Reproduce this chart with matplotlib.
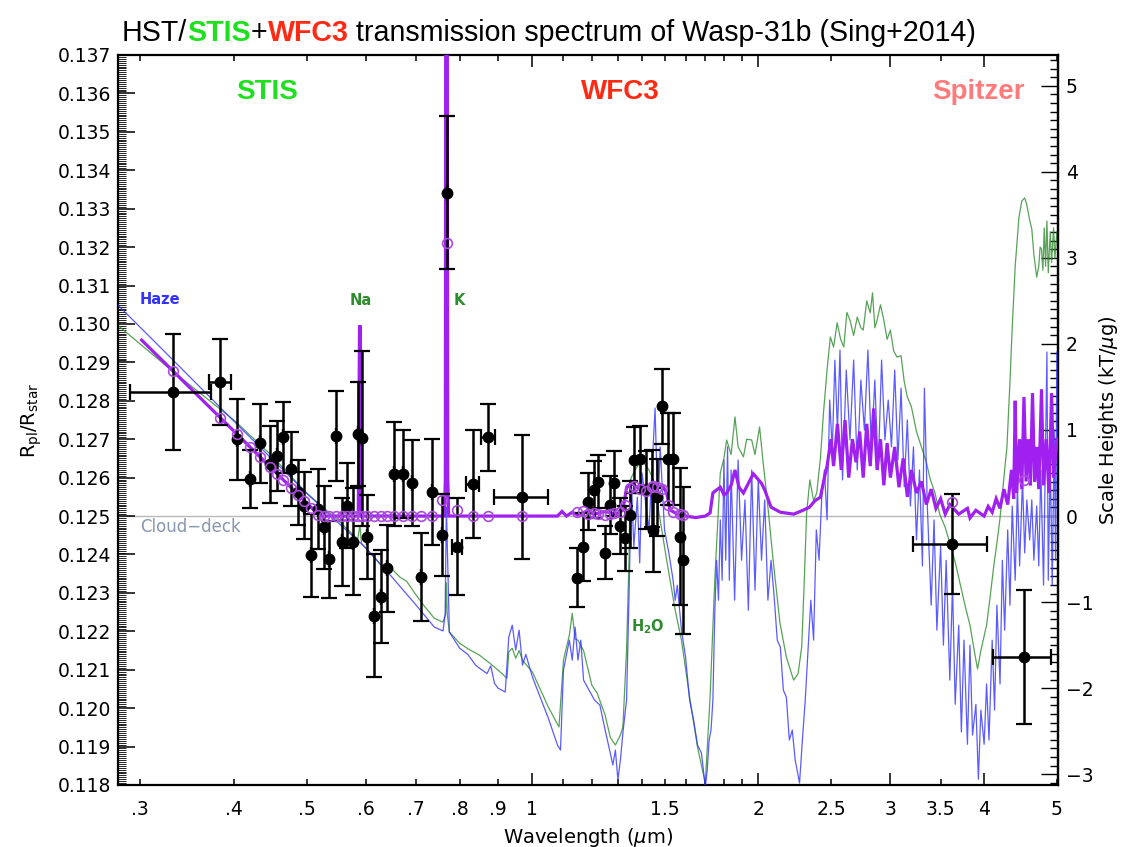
import matplotlib
matplotlib.use("Agg")
import matplotlib.pyplot as plt
from matplotlib.ticker import MultipleLocator, FixedLocator, FormatStrFormatter

# ---------------------------------------------------------------------------
# Observed spectrum: wavelength (um), Rp/Rs, 1-sigma error, bin half-width (um)
# ---------------------------------------------------------------------------
stis_wl = [0.3316, 0.3834, 0.4035, 0.4203, 0.4334, 0.4469, 0.4562, 0.4656, 0.4763,
           0.4866, 0.4966, 0.5063, 0.5174, 0.5277, 0.5362, 0.5469, 0.5569, 0.5656,
           0.5772, 0.5851, 0.5929, 0.6013, 0.6157, 0.6280, 0.6397, 0.6540, 0.6730,
           0.6918, 0.7106, 0.7343, 0.7570, 0.7695, 0.7943, 0.8327, 0.8736, 0.9680]
stis_rp = [0.12824, 0.12850, 0.12700, 0.12596, 0.12689, 0.12635, 0.12657, 0.12705, 0.12622,
           0.12562, 0.12527, 0.12398, 0.12518, 0.12471, 0.12387, 0.12708, 0.12432, 0.12527,
           0.12433, 0.12714, 0.12702, 0.12445, 0.12240, 0.12290, 0.12364, 0.12609, 0.12609,
           0.12585, 0.12342, 0.12563, 0.12451, 0.13341, 0.12420, 0.12583, 0.12705, 0.12550]
stis_err = [0.00151, 0.00112, 0.00105, 0.00076, 0.00102, 0.00100, 0.00091, 0.00093, 0.00096,
            0.00085, 0.00087, 0.00108, 0.00104, 0.00108, 0.00101, 0.00117, 0.00115, 0.00111,
            0.00139, 0.00135, 0.00228, 0.00109, 0.00160, 0.00121, 0.00113, 0.00136, 0.00115,
            0.00112, 0.00115, 0.00138, 0.00107, 0.00199, 0.00126, 0.00141, 0.00087, 0.00162]
stis_hw = [0.041, 0.013, 0, 0, 0, 0, 0, 0, 0,
           0, 0, 0, 0, 0, 0, 0, 0, 0,
           0, 0, 0, 0, 0, 0, 0, 0, 0,
           0, 0, 0, 0, 0, 0.012, 0.017, 0.019, 0.080]

wfc3_wl = [1.148, 1.1695, 1.1876, 1.2097, 1.2246, 1.2500, 1.2694, 1.2863, 1.3090, 1.3305, 1.3498,
           1.3677, 1.3918, 1.4164, 1.4428, 1.4499, 1.4651, 1.4905, 1.5182, 1.5417, 1.5737, 1.5898]
wfc3_rp = [0.12340, 0.12420, 0.12537, 0.12568, 0.12589, 0.12404, 0.12529, 0.12585, 0.12474,
           0.12442, 0.12503, 0.12646, 0.12648, 0.12568, 0.12572, 0.12464, 0.12549, 0.12786,
           0.12648, 0.12648, 0.12446, 0.12385]
wfc3_err = [0.00077, 0.00089, 0.00074, 0.00074, 0.00069, 0.00069, 0.00076, 0.00085, 0.00074,
            0.00084, 0.00087, 0.00087, 0.00087, 0.00102, 0.00100, 0.00110, 0.00100, 0.00098,
            0.00120, 0.00120, 0.00178, 0.00191]

spitzer_wl = [3.624, 4.515]
spitzer_rp = [0.12427, 0.12134]
spitzer_err = [0.00130, 0.00174]
spitzer_hw = [0.41, 0.40]

# cloud-deck model averaged over each observed bin
stis_model_bin = [0.12878, 0.12756, 0.12713, 0.12679, 0.12653, 0.12627, 0.12610, 0.12593,
                  0.12574, 0.12556, 0.12539, 0.12522, 0.12504] + [0.12500] * 17 + \
                 [0.12542, 0.13211, 0.12516, 0.12500, 0.12500, 0.12500]
wfc3_model_bin = [0.12510, 0.12512, 0.12505, 0.12508, 0.12505, 0.12503, 0.12505, 0.12508,
                  0.12510, 0.12530, 0.12572, 0.12578, 0.12570, 0.12566, 0.12575, 0.12578,
                  0.12576, 0.12570, 0.12530, 0.12510, 0.12505, 0.12503]
spitzer_model_bin = [0.12537, 0.12594]

# ---------------------------------------------------------------------------
# Model spectra as (wavelength um, Rp/Rs)
# ---------------------------------------------------------------------------
haze_model = [
    (0.28, 0.13050), (0.33, 0.12911), (0.40, 0.12747), (0.45, 0.12648), (0.50, 0.12560),
    (0.55, 0.12484), (0.60, 0.12417), (0.65, 0.12341), (0.70, 0.12268), (0.74, 0.12211),
    (0.76, 0.12201), (0.765, 0.12242), (0.768, 0.12523), (0.771, 0.12385), (0.775, 0.12198),
    (0.80, 0.12156), (0.82, 0.12140), (0.84, 0.12112), (0.85, 0.12104), (0.87, 0.12090),
    (0.88, 0.12110), (0.89, 0.12065), (0.90, 0.12052), (0.92, 0.12042), (0.93, 0.12185),
    (0.94, 0.12216), (0.95, 0.12151), (0.96, 0.12203), (0.97, 0.12112), (0.98, 0.12140),
    (1.00, 0.12081), (1.05, 0.11974), (1.08, 0.11904), (1.09, 0.11891), (1.10, 0.12099),
    (1.12, 0.12177), (1.13, 0.12125), (1.14, 0.12211), (1.15, 0.12125), (1.16, 0.12177),
    (1.17, 0.12073), (1.19, 0.12047), (1.21, 0.12021), (1.23, 0.12008), (1.25, 0.11943),
    (1.27, 0.11883), (1.28, 0.11852), (1.29, 0.11891), (1.30, 0.11813), (1.31, 0.11865),
    (1.32, 0.11935), (1.335, 0.12021), (1.345, 0.12289), (1.355, 0.12594), (1.365, 0.12419),
    (1.38, 0.12549), (1.39, 0.12378), (1.40, 0.12612), (1.43, 0.12464), (1.457, 0.12781),
    (1.47, 0.12508), (1.48, 0.12680), (1.50, 0.12464), (1.52, 0.12404), (1.54, 0.12333),
    (1.55, 0.12281), (1.56, 0.12320), (1.58, 0.12203), (1.60, 0.12133), (1.62, 0.12021),
    (1.64, 0.11969), (1.66, 0.11904), (1.68, 0.11883), (1.70, 0.11794), (1.71, 0.11839),
    (1.72, 0.11917), (1.73, 0.11943), (1.74, 0.12021), (1.75, 0.12247), (1.76, 0.12385),
    (1.77, 0.12281), (1.78, 0.12490), (1.79, 0.12333), (1.80, 0.12646), (1.81, 0.12385),
    (1.82, 0.12680), (1.83, 0.12333), (1.84, 0.12620), (1.86, 0.12281), (1.88, 0.12646),
    (1.90, 0.12385), (1.92, 0.12542), (1.94, 0.12255), (1.96, 0.12620), (1.98, 0.12307),
    (2.00, 0.12594), (2.02, 0.12385), (2.04, 0.12542), (2.06, 0.12281), (2.08, 0.12385),
    (2.10, 0.12289), (2.12, 0.12177), (2.14, 0.12159), (2.16, 0.12047), (2.18, 0.12029),
    (2.20, 0.11917), (2.22, 0.11943), (2.24, 0.11865), (2.27, 0.11805), (2.29, 0.11917),
    (2.31, 0.12021), (2.33, 0.12151), (2.35, 0.12281), (2.37, 0.12177), (2.39, 0.12464),
    (2.41, 0.12385), (2.43, 0.12549), (2.45, 0.12620), (2.47, 0.12490), (2.49, 0.12802),
    (2.51, 0.12672), (2.53, 0.12906), (2.55, 0.12724), (2.57, 0.12932), (2.59, 0.12594),
    (2.62, 0.12880), (2.65, 0.12698), (2.68, 0.12906), (2.71, 0.12620), (2.74, 0.12854),
    (2.77, 0.12724), (2.80, 0.12932), (2.83, 0.12672), (2.86, 0.12854), (2.89, 0.12620),
    (2.92, 0.12906), (2.95, 0.12698), (2.98, 0.12802), (3.01, 0.12680), (3.04, 0.12880),
    (3.07, 0.12646), (3.10, 0.12833), (3.13, 0.12576), (3.16, 0.12750), (3.19, 0.12526),
    (3.22, 0.12680), (3.25, 0.12438), (3.28, 0.12620), (3.31, 0.12370), (3.33, 0.12833),
    (3.36, 0.12526), (3.40, 0.12268), (3.43, 0.12490), (3.46, 0.12203), (3.50, 0.12422),
    (3.53, 0.12164), (3.56, 0.12385), (3.60, 0.12073), (3.63, 0.12320), (3.66, 0.12010),
    (3.70, 0.12216), (3.73, 0.11938), (3.76, 0.12177), (3.80, 0.11906), (3.83, 0.12164),
    (3.86, 0.11930), (3.90, 0.12010), (3.93, 0.11815), (3.96, 0.11995), (4.00, 0.11906),
    (4.03, 0.12063), (4.06, 0.11917), (4.10, 0.12177), (4.13, 0.11995), (4.16, 0.12268),
    (4.20, 0.12063), (4.23, 0.12385), (4.26, 0.12203), (4.30, 0.12464), (4.33, 0.12268),
    (4.36, 0.12526), (4.40, 0.12333), (4.43, 0.12576), (4.46, 0.12370), (4.50, 0.12594),
    (4.53, 0.12404), (4.56, 0.12542), (4.60, 0.12438), (4.63, 0.12542), (4.66, 0.12385),
    (4.70, 0.12526), (4.73, 0.12370), (4.76, 0.12620), (4.80, 0.12320), (4.83, 0.12680),
    (4.85, 0.12927), (4.87, 0.12333), (4.90, 0.12646), (4.93, 0.12320), (4.96, 0.12724),
    (4.98, 0.12385), (5.00, 0.12927), (5.02, 0.12600),
]

clear_model = [
    (0.28, 0.12997), (0.33, 0.12880), (0.40, 0.12750), (0.45, 0.12656), (0.50, 0.12560),
    (0.55, 0.12490), (0.585, 0.12440), (0.589, 0.12475), (0.592, 0.12428), (0.62, 0.12385),
    (0.64, 0.12355), (0.65, 0.12362), (0.666, 0.12341), (0.68, 0.12330), (0.70, 0.12294),
    (0.72, 0.12262), (0.74, 0.12234), (0.76, 0.12224), (0.766, 0.12245), (0.768, 0.12326),
    (0.770, 0.12245), (0.775, 0.12198), (0.80, 0.12169), (0.82, 0.12155), (0.85, 0.12138),
    (0.88, 0.12115), (0.90, 0.12099), (0.925, 0.12078), (0.93, 0.12146), (0.94, 0.12156),
    (0.95, 0.12130), (0.96, 0.12150), (0.97, 0.12125), (1.00, 0.12094), (1.05, 0.12003),
    (1.085, 0.11951), (1.10, 0.12125), (1.12, 0.12190), (1.13, 0.12247), (1.14, 0.12180),
    (1.15, 0.12177), (1.17, 0.12150), (1.20, 0.12060), (1.22, 0.12039), (1.25, 0.11982),
    (1.27, 0.11924), (1.29, 0.11904), (1.31, 0.11930), (1.32, 0.11951), (1.335, 0.12151),
    (1.345, 0.12385), (1.35, 0.12594), (1.37, 0.12620), (1.40, 0.12646), (1.43, 0.12620),
    (1.45, 0.12594), (1.48, 0.12490), (1.51, 0.12385), (1.55, 0.12255), (1.58, 0.12177),
    (1.62, 0.12029), (1.66, 0.11898), (1.70, 0.11805), (1.725, 0.12029), (1.75, 0.12333),
    (1.78, 0.12612), (1.80, 0.12650), (1.815, 0.12698), (1.84, 0.12660), (1.862, 0.12758),
    (1.88, 0.12680), (1.911, 0.12654), (1.93, 0.12700), (1.96, 0.12698), (1.98, 0.12660),
    (2.008, 0.12732), (2.03, 0.12640), (2.054, 0.12549), (2.095, 0.12378), (2.138, 0.12221),
    (2.18, 0.12133), (2.229, 0.12073), (2.26, 0.12090), (2.285, 0.12159), (2.30, 0.12300),
    (2.32, 0.12508), (2.343, 0.12594), (2.37, 0.12540), (2.393, 0.12560), (2.42, 0.12650),
    (2.443, 0.12768), (2.47, 0.12880), (2.495, 0.12966), (2.52, 0.12940), (2.548, 0.13003),
    (2.575, 0.12960), (2.60, 0.12940), (2.625, 0.13030), (2.65, 0.13010), (2.68, 0.12970),
    (2.71, 0.13018), (2.74, 0.12990), (2.76, 0.12984), (2.79, 0.13060), (2.82, 0.13029),
    (2.84, 0.13081), (2.86, 0.12990), (2.88, 0.13010), (2.91, 0.13050), (2.94, 0.13010),
    (2.97, 0.12960), (3.00, 0.12984), (3.03, 0.12930), (3.06, 0.12914), (3.10, 0.12917),
    (3.13, 0.12850), (3.16, 0.12810), (3.20, 0.12784), (3.25, 0.12720), (3.30, 0.12680),
    (3.35, 0.12640), (3.39, 0.12596), (3.44, 0.12560), (3.49, 0.12505), (3.55, 0.12470),
    (3.61, 0.12422), (3.66, 0.12380), (3.72, 0.12320), (3.78, 0.12260), (3.83, 0.12216),
    (3.88, 0.12150), (3.92, 0.12102), (3.96, 0.12150), (4.03, 0.12216), (4.08, 0.12300),
    (4.12, 0.12370), (4.16, 0.12430), (4.20, 0.12495), (4.25, 0.12600), (4.29, 0.12680),
    (4.33, 0.12850), (4.36, 0.12990), (4.40, 0.13150), (4.45, 0.13276), (4.49, 0.13320),
    (4.53, 0.13328), (4.56, 0.13310), (4.60, 0.13270), (4.63, 0.13247), (4.66, 0.13180),
    (4.70, 0.13122), (4.73, 0.13150), (4.75, 0.13200), (4.77, 0.13195), (4.79, 0.13140),
    (4.81, 0.13250), (4.83, 0.13150), (4.85, 0.13268), (4.87, 0.13133), (4.90, 0.13240),
    (4.92, 0.13160), (4.95, 0.13250), (4.97, 0.13170), (5.00, 0.13240), (5.02, 0.13200),
]

cloud_model = [
    (0.3014, 0.12958), (0.5211, 0.12500), (0.586, 0.12500), (0.5883, 0.12993),
    (0.5897, 0.12993), (0.592, 0.12500), (0.7635, 0.12500), (0.7655, 0.12600),
    (0.7665, 0.14000), (0.7700, 0.14000), (0.7712, 0.12600), (0.7735, 0.12500),
    (1.08, 0.12500), (1.095, 0.12512), (1.11, 0.12500), (1.13, 0.12510), (1.15, 0.12503),
    (1.18, 0.12512), (1.21, 0.12505), (1.25, 0.12512), (1.29, 0.12505), (1.32, 0.12515),
    (1.335, 0.12574), (1.36, 0.12584), (1.39, 0.12570), (1.42, 0.12582), (1.45, 0.12568),
    (1.49, 0.12580), (1.51, 0.12560), (1.525, 0.12516), (1.56, 0.12505), (1.60, 0.12500),
    (1.65, 0.12496), (1.70, 0.12500), (1.725, 0.12508), (1.74, 0.12560), (1.76, 0.12568),
    (1.78, 0.12575), (1.80, 0.12555), (1.815, 0.12560), (1.84, 0.12580), (1.862, 0.12620),
    (1.885, 0.12575), (1.911, 0.12560), (1.94, 0.12585), (1.97, 0.12610), (1.99, 0.12600),
    (2.02, 0.12585), (2.04, 0.12568), (2.08, 0.12523), (2.14, 0.12510), (2.23, 0.12505),
    (2.30, 0.12516), (2.34, 0.12523), (2.38, 0.12540), (2.42, 0.12549), (2.45, 0.12600),
    (2.47, 0.12630), (2.50, 0.12700), (2.52, 0.12630), (2.55, 0.12740), (2.58, 0.12620),
    (2.61, 0.12750), (2.64, 0.12600), (2.67, 0.12700), (2.70, 0.12640), (2.73, 0.12720),
    (2.76, 0.12600), (2.79, 0.12740), (2.82, 0.12630), (2.85, 0.12780), (2.88, 0.12620),
    (2.91, 0.12700), (2.94, 0.12580), (2.97, 0.12690), (3.00, 0.12600), (3.04, 0.12680),
    (3.08, 0.12575), (3.12, 0.12650), (3.16, 0.12550), (3.20, 0.12620), (3.25, 0.12560),
    (3.30, 0.12590), (3.35, 0.12530), (3.40, 0.12570), (3.45, 0.12520), (3.50, 0.12545),
    (3.55, 0.12505), (3.60, 0.12530), (3.70, 0.12505), (3.80, 0.12520), (3.83, 0.12495),
    (3.90, 0.12515), (4.00, 0.12500), (4.05, 0.12525), (4.10, 0.12510), (4.15, 0.12545),
    (4.20, 0.12520), (4.25, 0.12570), (4.30, 0.12530), (4.35, 0.12620), (4.38, 0.12545),
    (4.40, 0.12800), (4.42, 0.12560), (4.46, 0.12700), (4.49, 0.12570), (4.52, 0.12810),
    (4.55, 0.12590), (4.58, 0.12700), (4.61, 0.12580), (4.64, 0.12820), (4.67, 0.12590),
    (4.70, 0.12680), (4.73, 0.12570), (4.77, 0.12830), (4.80, 0.12580), (4.84, 0.12700),
    (4.88, 0.12560), (4.92, 0.12820), (4.95, 0.12600), (5.00, 0.12700),
]

CLOUD_DECK = 0.125          # flat-line radius
RP_PER_H = 0.00224          # Rp/Rs change per atmospheric scale height

x_major = [1, 2, 3, 4]
x_minor = [0.3, 0.4, 0.5, 0.6, 0.7, 0.8, 0.9, 1.1, 1.2, 1.3, 1.4, 1.5, 1.6, 1.7, 1.8, 1.9,
           2.5, 3.5, 5.0]
x_minor_labels = [".3", ".4", ".5", ".6", ".7", ".8", ".9", "", "", "", "", "1.5", "", "",
                  "", "", "2.5", "3.5", "5"]
h_major = [-3, -2, -1, 0, 1, 2, 3, 4, 5]
h_minor = [i / 10 for i in range(-31, 54)]

GREEN = "#2e8b2e"
BLUE = "#3232ff"
PURPLE = "#a020f0"

plt.rcParams["font.family"] = "DejaVu Sans"

fig = plt.figure(figsize=(11.25, 8.47), dpi=100)
ax = fig.add_axes([0.10516, 0.07320, 0.83484, 0.86187])

ax.axhline(CLOUD_DECK, color="#b8b8b8", lw=1.0, zorder=1)

for model, color, z in [(clear_model, GREEN, 2), (haze_model, BLUE, 3)]:
    wl, rp = zip(*model)
    ax.plot(wl, rp, color=color, lw=0.9, alpha=0.8, zorder=z)
wl, rp = zip(*cloud_model)
ax.plot(wl, rp, color=PURPLE, lw=2.3, zorder=4, solid_joinstyle="miter")

err_style = dict(fmt="o", color="black", ms=7.5, elinewidth=1.8, capsize=5.5,
                 capthick=1.6, zorder=5)
ax.errorbar(stis_wl, stis_rp, yerr=stis_err, xerr=stis_hw, **err_style)
ax.errorbar(wfc3_wl, wfc3_rp, yerr=wfc3_err, **err_style)
ax.errorbar(spitzer_wl, spitzer_rp, yerr=spitzer_err, xerr=spitzer_hw, **err_style)

ax.plot(stis_wl + wfc3_wl + spitzer_wl,
        stis_model_bin + wfc3_model_bin + spitzer_model_bin,
        "o", mfc="none", mec="#a94bdc", mew=1.2, ms=7, zorder=6)

# axes, ticks
ax.set_xscale("log")
ax.set_xlim(0.2806, 5.01)
ax.set_ylim(0.118, 0.137)
ax.set_xticks(x_major, [str(v) for v in x_major])
ax.set_xticks(x_minor, x_minor_labels, minor=True)
ax.yaxis.set_major_locator(MultipleLocator(0.001))
ax.yaxis.set_minor_locator(MultipleLocator(0.00005))
ax.yaxis.set_major_formatter(FormatStrFormatter("%.3f"))

ax.tick_params(axis="both", which="both", direction="in", labelsize=13.5, colors="black")
ax.tick_params(axis="x", which="both", top=True, pad=11, width=1.1)
ax.tick_params(axis="x", which="major", length=8.5)
ax.tick_params(axis="x", which="minor", length=4.5)
ax.tick_params(axis="y", which="both", right=False, pad=5)
ax.tick_params(axis="y", which="major", length=12, width=1.1)
ax.tick_params(axis="y", which="minor", length=5.5, width=0.6)
for sp in ax.spines.values():
    sp.set_linewidth(1.6)

sec = ax.secondary_yaxis("right", functions=(lambda r: (r - CLOUD_DECK) / RP_PER_H,
                                             lambda h: CLOUD_DECK + h * RP_PER_H))
sec.yaxis.set_major_locator(FixedLocator(h_major))
sec.yaxis.set_minor_locator(FixedLocator(h_minor))
sec.tick_params(axis="y", which="both", direction="in", labelsize=13.5, width=1.0, pad=6)
sec.tick_params(axis="y", which="major", length=12)
sec.tick_params(axis="y", which="minor", length=5.5)
sec.spines["right"].set_linewidth(1.6)
sec.set_ylabel(r"Scale Heights (kT/$\mu$g)", fontsize=14, labelpad=2.5)

ax.set_xlabel(r"Wavelength ($\mu$m)", fontsize=14, labelpad=5)
ax.set_ylabel(r"R$_{\mathrm{pl}}$/R$_{\mathrm{star}}$", fontsize=14, labelpad=10)

# in-plot annotations
lab = dict(ha="center", va="center", fontweight="bold", fontsize=20,
           family="Liberation Sans")
ax.text(0.4426, 0.13604, "STIS", color="#1fe01f", **lab)
ax.text(1.309, 0.13604, "WFC3", color="#ff2a14", **lab)
ax.text(3.93, 0.13604, "Spitzer", color="#ff7b7b", **lab)

small = dict(va="center", fontsize=10.5, fontweight="bold")
ax.text(0.300, 0.13063, "Haze", color=BLUE, ha="left", **small)
ax.text(0.5914, 0.13060, "Na", color=GREEN, ha="center", **small)
ax.text(0.7984, 0.13060, "K", color=GREEN, ha="center", **small)
ax.text(1.4266, 0.12211, r"H$_\mathbf{2}$O", color=GREEN, ha="center", **small)
ax.text(0.300, 0.12471, "Cloud\u2212deck", color="#8797ad", ha="left", va="center",
        fontsize=12)

# multi-coloured title built piece by piece
renderer = fig.canvas.get_renderer()
pieces = [("HST/", "black", "normal"), ("STIS", "#1fe01f", "bold"), ("+", "black", "normal"),
          ("WFC3", "#ff2a14", "bold"),
          (" transmission spectrum of Wasp-31b (Sing+2014)", "black", "normal")]
x = 122 / 1125
for text, color, weight in pieces:
    t = fig.text(x, 1 - 41 / 847, text, color=color, fontweight=weight, fontsize=20.6,
                 family="Liberation Sans", va="baseline", ha="left")
    x += t.get_window_extent(renderer).width / fig.bbox.width

fig.savefig("out.png", dpi=100)
